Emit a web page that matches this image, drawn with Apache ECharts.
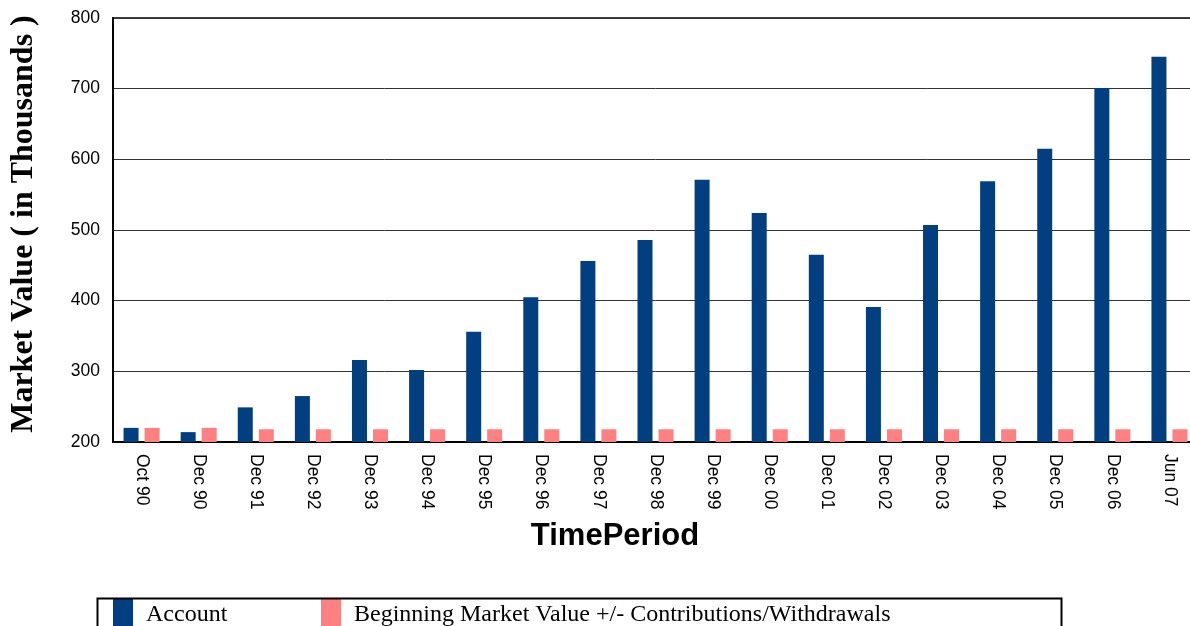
<!DOCTYPE html>
<html>
<head>
<meta charset="utf-8">
<script src="https://cdn.jsdelivr.net/npm/echarts@6/dist/echarts.min.js"></script>
<style>
  html, body { margin: 0; padding: 0; background: #fff; overflow: hidden; }
  /* plot runs a few px past the right edge of the window, as in the source */
  #chart { width: 1198px; height: 626px; }
</style>
</head>
<body>
<div id="chart"></div>
<script>
// Market value by period vs. beginning value +/- flows (thousands)
const periods = ['Oct 90', 'Dec 90', 'Dec 91', 'Dec 92', 'Dec 93', 'Dec 94', 'Dec 95', 'Dec 96',
  'Dec 97', 'Dec 98', 'Dec 99', 'Dec 00', 'Dec 01', 'Dec 02', 'Dec 03', 'Dec 04', 'Dec 05', 'Dec 06', 'Jun 07']
const account = [220, 214, 249, 265, 316, 302, 356, 405, 456, 486, 571, 524, 465, 391, 507, 569, 615, 701, 745]
const beginning = [220, 220, 218, 218, 218, 218, 218, 218, 218, 218, 218, 218, 218, 218, 218, 218, 218, 218, 218]
const yTicks = [200, 300, 400, 500, 600, 700, 800]

const chart = echarts.init(document.getElementById('chart'))

// rich token with top padding nudges the legend text a bit lower than the icon centre
const legendText = {
  fontFamily: 'Liberation Serif', fontSize: 24, color: '#000', padding: [0, 0, 0, 8],
  rich: { t: { fontFamily: 'Liberation Serif', fontSize: 24, color: '#000', padding: [6, 0, 0, 0] } }
}
const legendFmt = (name) => '{t|' + name + '}'

chart.setOption({
  backgroundColor: '#fff',
  animation: false,
  grid: {
    left: 113, right: 0, top: 18, bottom: 184, outerBoundsMode: 'none',
    show: true, borderColor: '#000', borderWidth: 1.5
  },
  legend: [
    {
      data: ['Account'], left: 113, top: 598, padding: 0, itemWidth: 20, itemHeight: 28, icon: 'rect',
      formatter: legendFmt, textStyle: legendText
    },
    {
      data: ['Beginning Market Value +/- Contributions/Withdrawals'], left: 321, top: 598, padding: 0,
      itemWidth: 20, itemHeight: 28, icon: 'rect',
      formatter: legendFmt, textStyle: legendText
    }
  ],
  graphic: [{
    type: 'rect', left: 95, top: 596, z: 100,
    shape: { width: 964, height: 40 },
    style: { fill: 'none', stroke: '#000', lineWidth: 2 }
  }],
  xAxis: {
    type: 'category',
    data: periods,
    name: 'TimePeriod',
    nameLocation: 'middle',
    nameGap: 79,
    nameTextStyle: { fontFamily: 'Liberation Sans', fontWeight: 'bold', fontSize: 31, color: '#000', padding: [0, 81, 0, 0] },
    axisLine: { lineStyle: { color: '#000', width: 2 } },
    axisTick: { show: false },
    axisLabel: { rotate: -90, margin: 12, fontFamily: 'Liberation Sans', fontSize: 17.5, color: '#000' }
  },
  yAxis: {
    type: 'value',
    min: yTicks[0],
    max: yTicks[yTicks.length - 1],
    interval: 100,
    name: 'Market Value ( in Thousands )',
    nameLocation: 'middle',
    nameGap: 73,
    nameTextStyle: {
      fontFamily: 'Liberation Serif', fontWeight: 'bold', fontSize: 32, color: '#000', padding: [0, 0, 0, 12]
    },
    axisLine: { show: true, lineStyle: { color: '#000', width: 2 } },
    axisTick: { show: false },
    axisLabel: { margin: 13, fontFamily: 'Liberation Sans', fontSize: 17.5, color: '#000' },
    splitLine: { lineStyle: { color: '#333', width: 1 } }
  },
  series: [
    {
      name: 'Account', type: 'bar', data: account, barWidth: 15, barGap: '40%',
      itemStyle: { color: '#023F80' }
    },
    {
      name: 'Beginning Market Value +/- Contributions/Withdrawals', type: 'bar', data: beginning, barWidth: 15,
      itemStyle: { color: '#FF8080' }
    }
  ]
})
</script>
</body>
</html>
